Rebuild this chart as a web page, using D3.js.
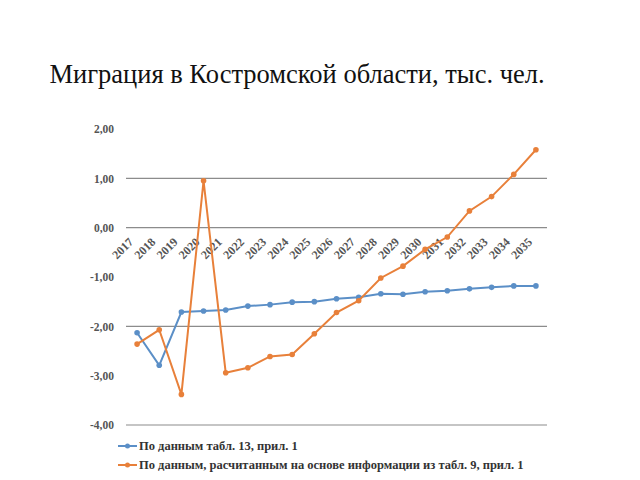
<!DOCTYPE html>
<html><head><meta charset="utf-8">
<script src="https://cdn.jsdelivr.net/npm/d3@7"></script>
<style>body{margin:0;background:#fff}svg{display:block}text{font-family:'Liberation Serif','Times New Roman',serif}</style>
</head><body>
<svg id="c" width="640" height="480"></svg>
<script>
const years = ["2017","2018","2019","2020","2021","2022","2023","2024","2025","2026","2027","2028","2029","2030","2031","2032","2033","2034","2035"];
const seriesBlue = [-2.13,-2.79,-1.71,-1.69,-1.67,-1.59,-1.56,-1.51,-1.50,-1.44,-1.41,-1.34,-1.35,-1.30,-1.28,-1.24,-1.21,-1.18,-1.18];
const seriesOrange = [-2.36,-2.07,-3.38,0.95,-2.94,-2.84,-2.61,-2.57,-2.15,-1.72,-1.48,-1.02,-0.78,-0.44,-0.19,0.34,0.63,1.08,1.58];
const yTicks = [2,1,0,-1,-2,-3,-4];
const gridValues = [1,0,-2,-4];
const legendLabels = ["По данным табл. 13, прил. 1","По данным, расчитанным на основе информации из табл. 9, прил. 1"];
const colors = ["#5B8FC7","#E8803A"];
const FF = "'Liberation Serif','Times New Roman',serif";

const svg = d3.select("#c");
const x = d3.scaleBand().domain(years).range([126,547]);
const y = d3.scaleLinear().domain([-4,2]).range([425,129]);
const fmt = v => d3.format(".2f")(v).replace(".", ",").replace("−", "-");

svg.append("text").attr("x",297).attr("y",83).attr("text-anchor","middle")
  .style("font-family",FF).attr("font-size",26.5)
  .attr("fill","#111").text("Миграция в Костромской области, тыс. чел.");

svg.append("g").selectAll("line").data(gridValues).join("line")
  .attr("x1",126).attr("x2",547).attr("y1",d=>y(d)).attr("y2",d=>y(d))
  .attr("stroke","#8c8c8c").attr("stroke-width",1.2);

const yAxis = d3.axisLeft(y).tickValues(yTicks).tickFormat(fmt).tickSize(0).tickPadding(0);
const gy = svg.append("g").attr("transform","translate(114,0)").call(yAxis);
gy.select(".domain").remove();
gy.selectAll("text").style("font-family",FF)
  .attr("font-size",11.5).attr("font-weight","bold").attr("fill","#555");

const xAxis = d3.axisBottom(x).tickSize(0).tickPadding(0);
const gx = svg.append("g").attr("transform",`translate(0,${y(0)})`).call(xAxis);
gx.select(".domain").remove();
gx.selectAll("text").style("font-family",FF)
  .attr("font-size",12).attr("font-weight","bold").attr("fill","#555")
  .attr("text-anchor","end").attr("dy",null).attr("y",0)
  .attr("transform","translate(-3,15) rotate(-45)");

const line = d3.line().x((d,i)=>x(years[i])+x.bandwidth()/2).y(d=>y(d));
[seriesBlue, seriesOrange].forEach((s,k)=>{
  svg.append("path").datum(s).attr("d",line).attr("fill","none")
    .attr("stroke",colors[k]).attr("stroke-width",2);
  svg.append("g").selectAll("circle").data(s).join("circle")
    .attr("cx",(d,i)=>x(years[i])+x.bandwidth()/2).attr("cy",d=>y(d)).attr("r",2.8)
    .attr("fill",colors[k]);
});

const lg = svg.append("g");
legendLabels.forEach((t,k)=>{
  const yy = 446 + k*19;
  lg.append("line").attr("x1",118).attr("x2",137).attr("y1",yy).attr("y2",yy)
    .attr("stroke",colors[k]).attr("stroke-width",2);
  lg.append("circle").attr("cx",127.5).attr("cy",yy).attr("r",2.5).attr("fill",colors[k]);
  lg.append("text").attr("x",139).attr("y",yy+4).style("font-family",FF)
    .attr("font-size",12.5).attr("font-weight","bold").attr("fill","#333").text(t);
});
</script>
</body></html>
